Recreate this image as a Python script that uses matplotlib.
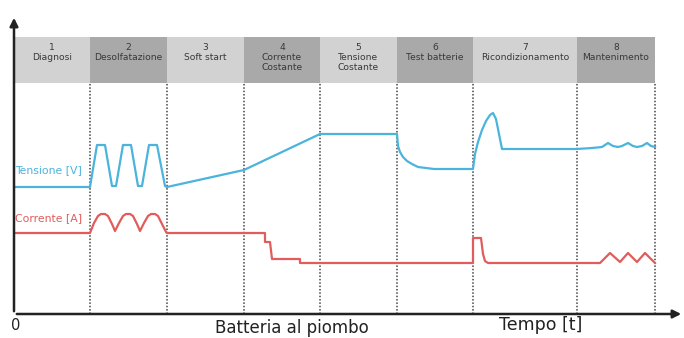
import matplotlib.pyplot as plt

# phase boundaries along the time axis (units from the origin)
bounds = [0, 76, 153, 230, 306, 383, 459, 563, 641]
phases = ["1\nDiagnosi", "2\nDesolfatazione", "3\nSoft start", "4\nCorrente\nCostante",
          "5\nTensione\nCostante", "6\nTest batterie", "7\nRicondizionamento", "8\nMantenimento"]

# Tensione [V] trace
v_t = [0, 76, 83, 91, 98, 102, 109, 117, 124, 128, 135, 143, 151, 153,
       230, 306, 383, 384, 386, 389, 393, 398, 404, 412, 420, 459,
       461, 464, 468, 472, 476, 479, 482, 488, 563,
       578, 588, 594, 599, 604, 608, 614, 619, 623, 628, 633, 637, 641]
v_y = [127, 127, 169, 169, 128, 128, 169, 169, 128, 128, 169, 169, 128, 127,
       144, 180, 180, 168, 162, 157, 153, 150, 147, 146, 145, 145,
       160, 172, 184, 193, 199, 201, 195, 165, 165,
       166, 167, 171, 168, 167, 168, 171, 168, 167, 168, 171, 168, 167]

# Corrente [A] trace
c_t = [0, 76, 80, 84, 87, 91, 94, 98, 101, 105, 109, 112, 116, 119, 123, 126,
       130, 134, 137, 141, 144, 148, 152, 153,
       251, 251, 256, 258, 286, 286, 459, 459, 467, 469, 471, 474,
       586, 596, 606, 614, 623, 631, 641]
c_y = [81, 81, 91, 98, 100, 100, 98, 90, 83, 91, 98, 100, 100, 98, 90, 83,
       91, 98, 100, 100, 98, 90, 82, 81,
       81, 72, 72, 55, 55, 51, 51, 76, 76, 60, 53, 51,
       51, 61, 52, 61, 52, 61, 51]

W, H = 684, 338
fig = plt.figure(figsize=(W / 100, H / 100), dpi=100)
x0, y0, y1 = 14, 314, 15
ax = fig.add_axes([x0 / W, (H - y0) / H, (W - x0) / W, (y0 - y1) / H])
ax.set_xlim(0, W - x0)
ax.set_ylim(0, y0 - y1)
ax.axis("off")

blue = "#4ab4dc"
red = "#e25c5c"

# header boxes
hb, ht = 231, 277
for i, lab in enumerate(phases):
    a, b = bounds[i], bounds[i + 1]
    col = "#d2d2d2" if i % 2 == 0 else "#a9a9a9"
    ax.fill_between([a, b], hb, ht, color=col, lw=0)
    ax.text((a + b) / 2, ht - 6, lab, ha="center", va="top", fontsize=6.6,
            color="#383838", linespacing=1.12)
    if i > 0:
        ax.plot([a, a], [0, hb], color="#444444", lw=1.1, ls=(0, (1, 1.2)))
ax.plot([bounds[-1]] * 2, [0, hb], color="#444444", lw=1.1, ls=(0, (1, 1.2)))

ax.plot(v_t, v_y, color=blue, lw=1.6)
ax.plot(c_t, c_y, color=red, lw=1.6)

ax.text(1, 144, "Tensione [V]", color=blue, fontsize=7.8, va="center")
ax.text(1, 96, "Corrente [A]", color=red, fontsize=7.8, va="center")

# axes with arrows
ax.annotate("", xy=(W - x0, 0), xytext=(0, 0),
            arrowprops=dict(arrowstyle="-|>", color="#222222", lw=1.8, mutation_scale=12),
            annotation_clip=False)
ax.annotate("", xy=(0, y0 - y1), xytext=(0, 0),
            arrowprops=dict(arrowstyle="-|>", color="#222222", lw=1.8, mutation_scale=12),
            annotation_clip=False)

fig.text(16 / W, 1 - 325 / H, "0", fontsize=10.5, ha="center", va="center", color="#222222")
fig.text(292 / W, 1 - 328 / H, "Batteria al piombo", fontsize=12, ha="center", va="center",
         color="#222222")
fig.text(541 / W, 1 - 325 / H, "Tempo [t]", fontsize=12.5, ha="center", va="center",
         color="#222222")

fig.savefig("out.png", dpi=100)
